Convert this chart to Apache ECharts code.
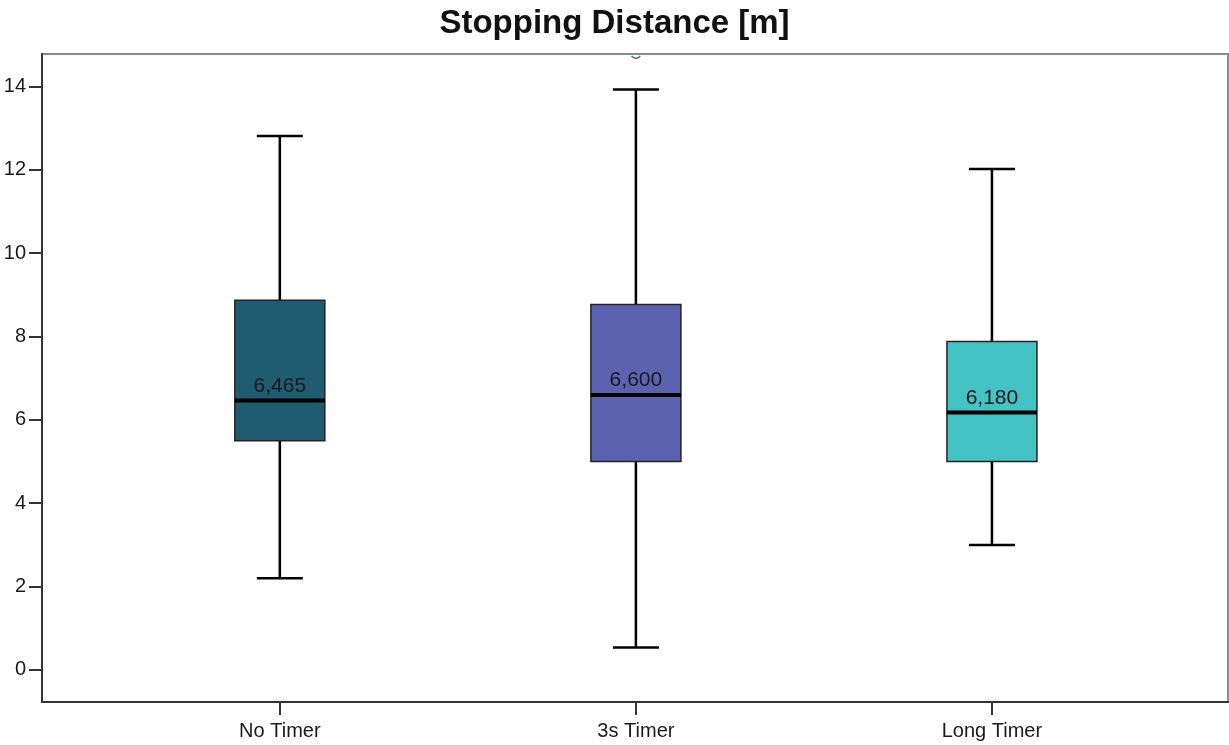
<!DOCTYPE html>
<html>
<head>
<meta charset="utf-8">
<title>Stopping Distance [m]</title>
<script src="https://cdn.jsdelivr.net/npm/echarts@6/dist/echarts.min.js"></script>
<style>
  html, body { margin: 0; padding: 0; background: #ffffff; }
  #chart { width: 1229px; height: 745px; }
</style>
</head>
<body>
<div id="chart"></div>
<script>
// Groups and five-number summaries of stopping distance (m)
var categories = ['No Timer', '3s Timer', 'Long Timer'];
var minimum = [2.20, 0.54, 3.00];
var q1 = [5.50, 5.00, 5.00];
var median = [6.465, 6.600, 6.180];
var q3 = [8.87, 8.77, 7.88];
var maximum = [12.81, 13.93, 12.02];
var boxColors = ['#1f5b71', '#5b63b0', '#44c2c4'];
// Outlier points: [group position, value]
var outliers = [[2, 14.80]];
var yTicks = [0, 2, 4, 6, 8, 10, 12, 14];

var boxData = categories.map(function (c, i) {
  return [i + 1, minimum[i], q1[i], median[i], q3[i], maximum[i]];
});

var FONT = '"Liberation Sans", Arial, sans-serif';

function fmt(v) {
  return v.toFixed(3).replace('.', ',');
}

var chart = echarts.init(document.getElementById('chart'), null, { renderer: 'canvas' });

function renderBox(params, api) {
  var x = api.value(0);
  var pMin = api.coord([x, api.value(1)]);
  var pQ1 = api.coord([x, api.value(2)]);
  var pMed = api.coord([x, api.value(3)]);
  var pQ3 = api.coord([x, api.value(4)]);
  var pMax = api.coord([x, api.value(5)]);
  var cx = pMed[0];
  var boxW = 90;
  var capW = 46;
  var idx = params.dataIndex;
  var line = { stroke: '#000000', lineWidth: 2.5 };
  return {
    type: 'group',
    children: [
      { type: 'line', shape: { x1: cx, y1: pMax[1], x2: cx, y2: pQ3[1] }, style: line },
      { type: 'line', shape: { x1: cx, y1: pQ1[1], x2: cx, y2: pMin[1] }, style: line },
      { type: 'line', shape: { x1: cx - capW / 2, y1: pMax[1], x2: cx + capW / 2, y2: pMax[1] }, style: line },
      { type: 'line', shape: { x1: cx - capW / 2, y1: pMin[1], x2: cx + capW / 2, y2: pMin[1] }, style: line },
      {
        type: 'rect',
        shape: { x: cx - boxW / 2, y: pQ3[1], width: boxW, height: pQ1[1] - pQ3[1] },
        style: { fill: boxColors[idx], stroke: '#222222', lineWidth: 1.5 }
      },
      {
        type: 'line',
        shape: { x1: cx - boxW / 2, y1: pMed[1], x2: cx + boxW / 2, y2: pMed[1] },
        style: { stroke: '#000000', lineWidth: 4 }
      },
      {
        type: 'text',
        x: cx, y: pMed[1] - 4,
        style: {
          text: fmt(api.value(3)),
          fill: '#1a1a1a',
          font: '21px ' + FONT,
          align: 'center',
          verticalAlign: 'bottom'
        }
      }
    ]
  };
}

// Outlier circle sitting at the top edge: only its lower arc falls inside the frame
function renderOutlier(params, api) {
  var p = api.coord([api.value(0), api.value(1)]);
  return {
    type: 'arc',
    shape: { cx: p[0], cy: p[1], r: 5, startAngle: 0.55, endAngle: Math.PI - 0.55 },
    style: { fill: 'none', stroke: '#5b63b0', lineWidth: 1.5 }
  };
}

chart.setOption({
  animation: false,
  backgroundColor: '#ffffff',
  title: {
    text: 'Stopping Distance [m]',
    left: 'center',
    top: 2,
    textStyle: {
      fontFamily: FONT,
      fontSize: 33,
      fontWeight: 'bold',
      color: '#111111'
    }
  },
  grid: {
    left: 42, right: 1, top: 54, bottom: 43,
    show: true,
    borderColor: '#8a8a8a',
    borderWidth: 2,
    backgroundColor: '#ffffff'
  },
  xAxis: {
    type: 'value',
    min: 0.332,
    max: 3.663,
    splitLine: { show: false },
    axisLine: { show: true, onZero: false, lineStyle: { color: '#333333', width: 2 } },
    axisTick: {
      show: true, length: 13, customValues: [1, 2, 3],
      lineStyle: { color: '#333333', width: 2 }
    },
    axisLabel: {
      customValues: [1, 2, 3],
      margin: 19,
      color: '#1a1a1a',
      fontSize: 20,
      fontFamily: FONT,
      formatter: function (v) { return categories[Math.round(v) - 1] || ''; }
    }
  },
  yAxis: {
    type: 'value',
    min: -0.77,
    max: 14.78,
    splitLine: { show: false },
    axisLine: { show: true, onZero: false, lineStyle: { color: '#333333', width: 2 } },
    axisTick: {
      show: true, length: 13, customValues: yTicks,
      lineStyle: { color: '#333333', width: 2 }
    },
    axisLabel: {
      customValues: yTicks,
      margin: 16,
      color: '#1a1a1a',
      fontSize: 20,
      fontFamily: FONT
    }
  },
  series: [
    {
      type: 'custom',
      name: 'box',
      renderItem: renderBox,
      encode: { x: 0, y: [1, 2, 3, 4, 5] },
      data: boxData,
      clip: true,
      z: 3
    },
    {
      type: 'custom',
      name: 'outlier',
      renderItem: renderOutlier,
      encode: { x: 0, y: 1 },
      data: outliers,
      clip: true,
      z: 2
    }
  ]
});
</script>
</body>
</html>
